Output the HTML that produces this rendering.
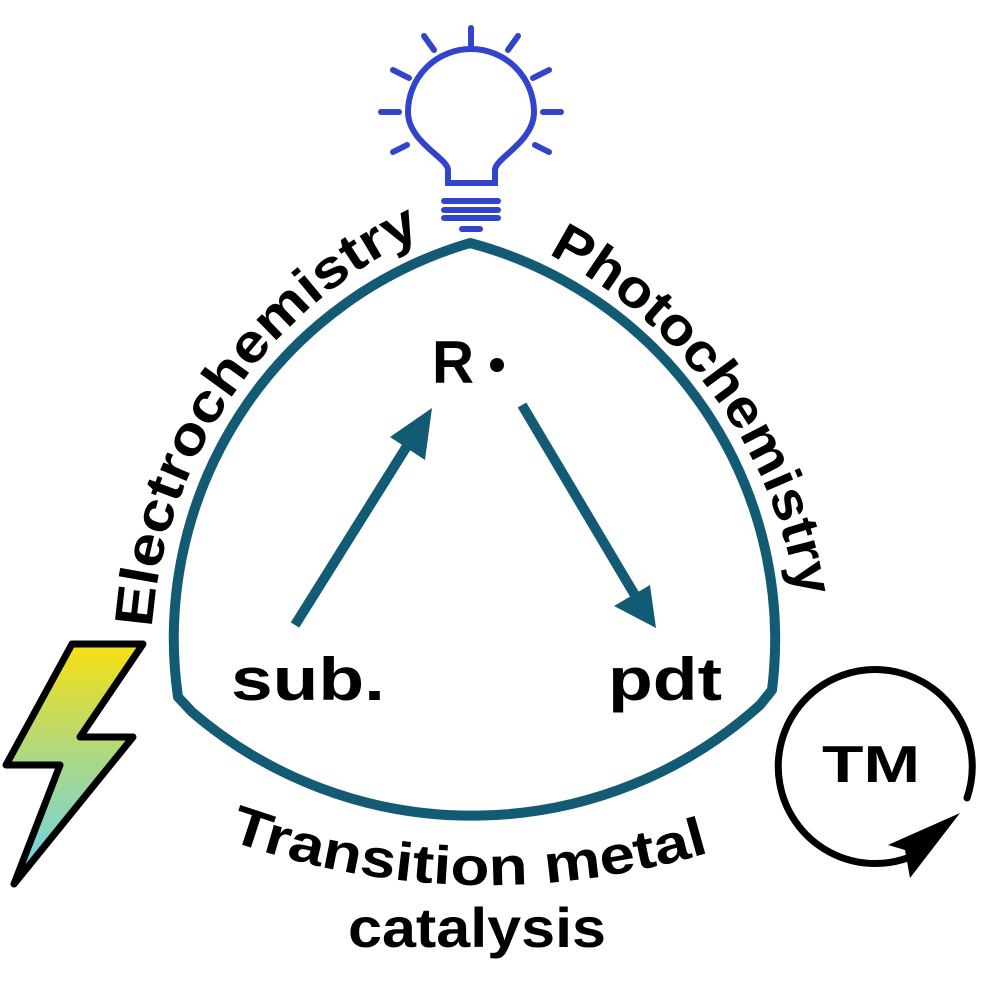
<!DOCTYPE html>
<html><head><style>
html,body{margin:0;padding:0;background:#fff;}
svg{display:block}
text{font-family:"Liberation Sans",Arial,sans-serif;font-weight:bold;fill:#000}
</style></head><body>
<svg width="996" height="996" viewBox="0 0 996 996" xmlns="http://www.w3.org/2000/svg">
<defs>
<linearGradient id="g" x1="0" y1="0" x2="0" y2="1">
<stop offset="0" stop-color="#f7e010"/><stop offset="0.5" stop-color="#a8d88a"/><stop offset="1" stop-color="#6cd0f4"/>
</linearGradient>
<path id="lp" d="M 152 628 A 470 470 0 0 1 428 232"/>
<path id="rp" d="M 548 254 A 470 470 0 0 1 798 602"/>
<path id="bp" d="M 228 840 Q 470 925 718 850"/>
</defs>
<!-- bulb -->
<g stroke="#3344cc" stroke-width="6" fill="none" stroke-linecap="round">
<path d="M 448 183 L 448 170 C 448 158 408 142 408 112 A 63 63 0 0 1 534 112 C 534 142 495 158 495 170 L 495 183 Z"/>
<line x1="444" y1="201" x2="498" y2="201"/><line x1="444" y1="210" x2="498" y2="210"/><line x1="444" y1="218" x2="498" y2="218"/><line x1="462" y1="229" x2="480" y2="229"/>
<line x1="471" y1="28" x2="471" y2="45"/>
<line x1="424" y1="36" x2="434" y2="50"/><line x1="518" y1="36" x2="508" y2="50"/>
<line x1="393" y1="70" x2="409" y2="78"/><line x1="549" y1="70" x2="533" y2="78"/>
<line x1="381" y1="112" x2="399" y2="112"/><line x1="543" y1="112" x2="561" y2="112"/>
<line x1="393" y1="152" x2="407" y2="145"/><line x1="549" y1="152" x2="535" y2="145"/>
</g>
<!-- main shape -->
<path d="M 470 243 A 410 410 0 0 1 772 690 L 760 705 A 430 430 0 0 1 192 712 L 178 697 A 412 412 0 0 1 470 243 Z" fill="none" stroke="#135a74" stroke-width="10" stroke-linejoin="round"/>
<!-- arrows -->
<g stroke="#135a74" stroke-width="10" fill="#135a74">
<line x1="295" y1="625" x2="412" y2="438"/>
<line x1="522" y1="405" x2="636" y2="597"/>
</g>
<polygon points="432,408 425,460 390,437" fill="#135a74"/>
<polygon points="656,628 614,606 650,585" fill="#135a74"/>
<text x="432" y="383" font-size="60" textLength="42" lengthAdjust="spacingAndGlyphs">R</text>
<circle cx="497" cy="365" r="7" fill="#000"/>
<text x="231" y="700" font-size="60" textLength="154" lengthAdjust="spacingAndGlyphs">sub.</text>
<text x="608" y="700" font-size="60" textLength="114" lengthAdjust="spacingAndGlyphs">pdt</text>
<!-- curved labels -->
<text font-size="54"><textPath href="#lp" textLength="500" lengthAdjust="spacingAndGlyphs">Electrochemistry</textPath></text>
<text font-size="54"><textPath href="#rp" textLength="440" lengthAdjust="spacingAndGlyphs">Photochemistry</textPath></text>
<text font-size="54"><textPath href="#bp" textLength="490" lengthAdjust="spacingAndGlyphs">Transition metal</textPath></text>
<text x="348" y="947" font-size="56" textLength="258" lengthAdjust="spacingAndGlyphs">catalysis</text>
<!-- lightning -->
<polygon points="72,644 143,644 80,737 133,737 14,884 60,765 6,765" fill="url(#g)" stroke="#000" stroke-width="7" stroke-linejoin="round"/>
<!-- TM -->
<path d="M 967 798 A 97 97 0 1 0 915 855" fill="none" stroke="#000" stroke-width="7" stroke-linecap="round"/>
<polygon points="960,813 888,845 905,850 910,878" fill="#000"/>
<text x="822" y="782" font-size="52" textLength="98" lengthAdjust="spacingAndGlyphs">TM</text>
</svg>
</body></html>
